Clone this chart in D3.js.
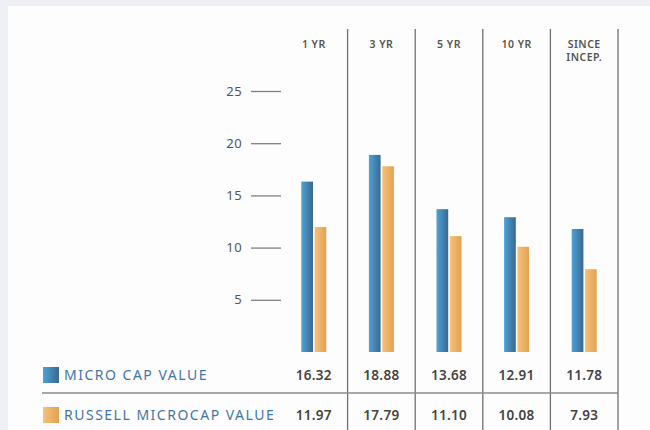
<!DOCTYPE html>
<html>
<head>
<meta charset="utf-8">
<script src="https://cdn.jsdelivr.net/npm/d3@7"></script>
<style>
  body { margin: 0; background: #eff0f5; }
  svg { display: block; font-family: "Noto Sans", sans-serif; }
</style>
</head>
<body>
<div class="chart"></div>
<script>
var periods = ["1 YR", "3 YR", "5 YR", "10 YR", "SINCE INCEP."];
var seriesNames = ["MICRO CAP VALUE", "RUSSELL MICROCAP VALUE"];
var microCap = [16.32, 18.88, 13.68, 12.91, 11.78];
var russell = [11.97, 17.79, 11.10, 10.08, 7.93];
var tickValues = [5, 10, 15, 20, 25];

var w = 650, h = 430;

var svg = d3.select("div.chart")
            .append("svg")
            .attr("width", w)
            .attr("height", h);

//gradients for the bars and legend swatches
var defs = svg.append("defs");
var grads = [
  {id: "gBlue", from: "#4ea2d6", to: "#3a6890"},
  {id: "gOrange", from: "#f6c27c", to: "#e2a250"}
];
grads.forEach(function(g){
  var lg = defs.append("linearGradient")
               .attr("id", g.id)
               .attr("x1", "0").attr("x2", "1")
               .attr("y1", "0").attr("y2", "0");
  lg.append("stop").attr("offset", "0").attr("stop-color", g.from);
  lg.append("stop").attr("offset", "1").attr("stop-color", g.to);
});

//white panel
svg.append("rect")
   .attr("x", 8).attr("y", 6)
   .attr("width", w - 8).attr("height", h - 6)
   .attr("fill", "#fdfdfd");

var x = d3.scaleBand()
          .domain(periods)
          .range([280, 618]);

var y = d3.scaleLinear()
          .domain([0, 25])
          .range([352, 91]);

var inner = d3.scaleBand()
              .domain(seriesNames)
              .range([-12.5, 12.5])
              .paddingInner(0.12);

//y axis
var yAxis = d3.axisLeft(y)
              .tickValues(tickValues)
              .tickSize(30)
              .tickPadding(9);

var axisG = svg.append("g")
               .attr("transform", "translate(281,0)")
               .call(yAxis);
axisG.select(".domain").remove();
axisG.selectAll(".tick line")
     .attr("stroke", "#808080")
     .attr("stroke-width", 1.3);
axisG.selectAll(".tick text")
     .attr("fill", "#555")
     .style("font-size", "13px")
     .style("letter-spacing", "0.4px")
     .style("font-family", "Noto Sans, sans-serif");

//column separators (no line before the first column)
svg.append("g")
   .selectAll("line")
   .data(periods)
   .enter()
   .append("line")
     .attr("x1", d => x(d) + x.bandwidth())
     .attr("x2", d => x(d) + x.bandwidth())
     .attr("y1", 29)
     .attr("y2", h)
     .attr("stroke", "#707070")
     .attr("stroke-width", 1.3);

//column headers, one text per line
var headLines = [];
periods.forEach(function(d){
  var parts = d === "SINCE INCEP." ? ["SINCE", "INCEP."] : [d];
  parts.forEach(function(p, i){ headLines.push({period: d, text: p, line: i}); });
});

svg.append("g")
   .selectAll("text")
   .data(headLines)
   .enter()
   .append("text")
     .attr("x", d => x(d.period) + x.bandwidth() / 2)
     .attr("y", d => 48 + d.line * 13)
     .attr("text-anchor", "middle")
     .attr("fill", "#555")
     .style("font-size", "10.5px")
     .style("letter-spacing", "0.5px")
     .style("font-weight", "600")
     .text(d => d.text);

//bars
var rows = periods.map(function(p, i){
  return {period: p, values: [
    {name: seriesNames[0], v: microCap[i], fill: "url(#gBlue)"},
    {name: seriesNames[1], v: russell[i], fill: "url(#gOrange)"}
  ]};
});

var groups = svg.append("g")
                .selectAll("g")
                .data(rows)
                .enter()
                .append("g")
                  .attr("transform", d => "translate(" + (x(d.period) + x.bandwidth() / 2) + ",0)");

groups.selectAll("rect")
      .data(d => d.values)
      .enter()
      .append("rect")
        .attr("x", d => inner(d.name))
        .attr("width", inner.bandwidth())
        .attr("y", d => y(d.v))
        .attr("height", d => y(0) - y(d.v))
        .attr("fill", d => d.fill);

//table rows
var tableRows = [
  {name: seriesNames[0], values: microCap, fill: "url(#gBlue)", y: 375},
  {name: seriesNames[1], values: russell, fill: "url(#gOrange)", y: 415}
];

svg.append("line")
   .attr("x1", 42).attr("x2", 618)
   .attr("y1", 393).attr("y2", 393)
   .attr("stroke", "#8a8a8a")
   .attr("stroke-width", 1.5);

var tr = svg.append("g")
            .selectAll("g")
            .data(tableRows)
            .enter()
            .append("g");

tr.append("rect")
  .attr("x", 43)
  .attr("y", d => d.y - 8)
  .attr("width", 16)
  .attr("height", 16)
  .attr("fill", d => d.fill);

tr.append("text")
  .attr("x", 64)
  .attr("y", d => d.y)
  .attr("dy", "0.36em")
  .attr("fill", "#3f76a8")
  .style("font-size", "14px")
  .style("letter-spacing", "1.5px")
  .text(d => d.name);

tr.selectAll("text.val")
  .data(d => d.values.map(function(v, i){ return {v: v, p: periods[i], y: d.y}; }))
  .enter()
  .append("text")
    .attr("class", "val")
    .attr("x", d => x(d.p) + x.bandwidth() / 2)
    .attr("y", d => d.y)
    .attr("dy", "0.36em")
    .attr("text-anchor", "middle")
    .attr("fill", "#444")
    .style("font-size", "13.5px")
    .style("letter-spacing", "0.3px")
    .style("font-weight", "600")
    .text(d => d3.format(".2f")(d.v));
</script>
</body>
</html>
